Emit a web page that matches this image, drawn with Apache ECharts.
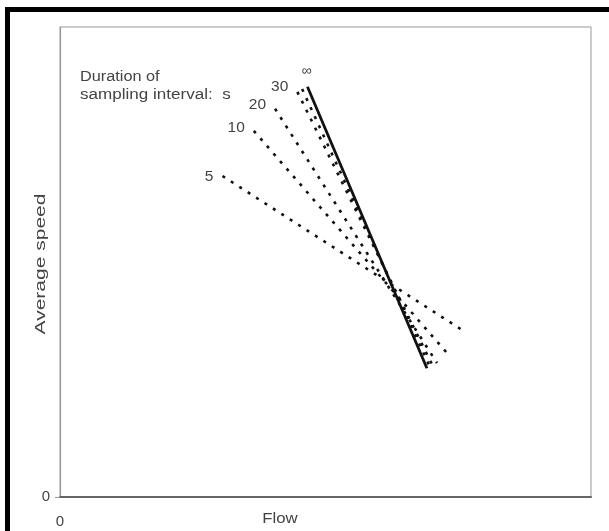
<!DOCTYPE html>
<html><head><meta charset="utf-8">
<script src="https://cdn.jsdelivr.net/npm/echarts@6/dist/echarts.min.js"></script>
<style>html,body{margin:0;padding:0;background:#fff}#c{width:609px;height:531px}</style>
</head><body><div id="c"></div>
<script>
// Sampling-interval lines: [flow, speed] start and end points (arbitrary units 0-100)
const lineNames = ['5', '10', '20', '30', '', '∞'];
const startFlow  = [30.6, 36.5, 40.5, 44.7, 45.6, 46.6];
const startSpeed = [68.3, 77.9, 82.6, 86.2, 86.8, 87.3];
const endFlow    = [75.5, 72.9, 71.0, 70.1, 69.6, 69.1];
const endSpeed   = [35.7, 30.6, 28.5, 28.1, 27.8, 27.4];
const xTickLabels = ['0'];
const yTickLabels = ['0'];
const legendLines = ['Duration of', 'sampling interval:  s'];

const labelOffsets = [[-4, 1], [-4, -3], [-4, -4], [-4, -5], [0, 0], [-1, -4]];
const labelPos = ['left', 'left', 'left', 'left', 'left', 'top'];

const series = lineNames.map((n, i) => {
  const solid = (n === '∞');
  return {
    type: 'line',
    name: n || 'extra',
    data: [[startFlow[i], startSpeed[i]], [endFlow[i], endSpeed[i]]],
    symbol: 'none',
    silent: true,
    lineStyle: solid ? {color: '#111', width: 2.8, type: 'solid'}
                     : {color: '#111', width: 2.6, type: [3, 7], cap: 'butt'},
    label: {show: false},
    markPoint: n ? {
      symbol: 'circle', symbolSize: 0,
      data: [{coord: [startFlow[i], startSpeed[i]], value: n}],
      label: {show: true, position: labelPos[i], offset: labelOffsets[i], formatter: n,
              color: '#444', fontFamily: 'Liberation Sans', fontSize: solid ? 14 : 15.5}
    } : undefined
  };
});

const font = '15.5px "Liberation Sans"';
const chart = echarts.init(document.getElementById('c'));
chart.setOption({
  animation: false,
  grid: {left: 60, top: 27, right: 18, bottom: 34, show: true, borderColor: '#999', borderWidth: 1},
  xAxis: {type: 'value', min: 0, max: 100, interval: 100,
    axisLine: {show: true, lineStyle: {color: '#666', width: 2}},
    axisTick: {show: false}, splitLine: {show: false},
    axisLabel: {color: '#444', fontFamily: 'Liberation Sans', fontSize: 15, margin: 17,
      customValues: [0], formatter: v => v === 0 ? xTickLabels[0] : ''}},
  yAxis: {type: 'value', min: 0, max: 100, interval: 100,
    axisLine: {show: true, lineStyle: {color: '#999', width: 1.2}},
    axisTick: {show: true, length: 5, customValues: [0], lineStyle: {color: '#999'}},
    splitLine: {show: false},
    axisLabel: {color: '#444', fontFamily: 'Liberation Sans', fontSize: 15, margin: 10,
      customValues: [0], formatter: v => v === 0 ? yTickLabels[0] : ''}},
  series: series,
  graphic: [
    {type: 'rect', shape: {x: 5, y: 7, width: 604, height: 5}, style: {fill: '#000'}},
    {type: 'rect', shape: {x: 5, y: 7, width: 5, height: 524}, style: {fill: '#000'}},
    {type: 'text', x: 80, y: 77, scaleX: 1.05, style: {text: legendLines[0], fill: '#444', font: font, verticalAlign: 'middle'}},
    {type: 'text', x: 80, y: 95, scaleX: 1.1, style: {text: legendLines[1], fill: '#444', font: font, verticalAlign: 'middle'}},
    {type: 'text', x: 280, y: 519, scaleX: 1.2, style: {text: 'Flow', fill: '#444', font: '14px "Liberation Sans"',
      align: 'center', verticalAlign: 'middle'}},
    {type: 'text', x: 41, y: 264, rotation: Math.PI / 2, scaleX: 1.5, style: {text: 'Average speed', fill: '#444',
      font: '14px "Liberation Sans"', align: 'center', verticalAlign: 'middle'}}
  ]
});
</script></body></html>
